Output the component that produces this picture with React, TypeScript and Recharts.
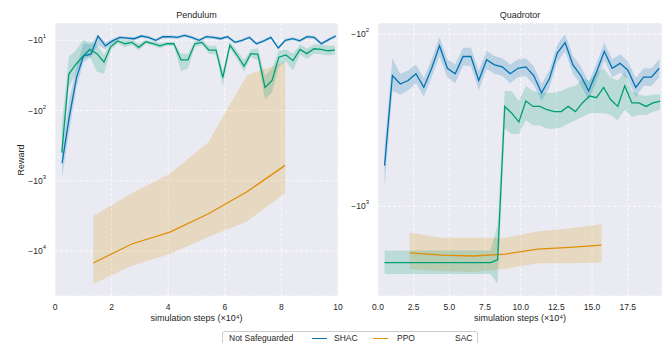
import React from 'react';
import { ComposedChart, Area, Line, XAxis, YAxis, CartesianGrid } from 'recharts';

// ---- Pendulum ----
const pendShacSteps = [0.25, 0.5, 0.76, 1.01, 1.27, 1.52, 1.78, 2.03, 2.29, 2.54, 2.8, 3.05, 3.3, 3.56, 3.81, 4.07, 4.32, 4.58, 4.83, 5.09, 5.34, 5.59, 5.85, 6.1, 6.36, 6.61, 6.87, 7.12, 7.38, 7.63, 7.89, 8.14, 8.4, 8.65, 8.9, 9.16, 9.41, 9.67, 9.92];
const pendShacReward = [-562, -126, -34, -16.6, -15.8, -8.7, -12, -10.2, -9.1, -9.3, -9.5, -8.7, -9.1, -10, -8.9, -8.9, -9.1, -8.5, -9.1, -10, -8.9, -9.1, -9.5, -8.9, -10.7, -10, -9.1, -11.2, -10.2, -9.1, -12.9, -10, -9.5, -10.2, -8.9, -9.1, -11.2, -9.8, -8.7];
const pendShacUpper = [-355, -71, -24, -11, -11.5, -8.3, -10.7, -9.5, -8.6, -8.8, -9.0, -8.3, -8.6, -9.5, -8.5, -8.5, -8.6, -8.1, -8.6, -9.5, -8.5, -8.6, -9.0, -8.5, -10.2, -9.5, -8.6, -10.6, -9.7, -8.6, -12.3, -9.5, -9.0, -9.7, -8.5, -8.6, -10.6, -9.3, -8.3];
const pendShacLower = [-870, -200, -47, -20.4, -17.5, -11.7, -13.5, -11, -9.6, -9.8, -10.0, -9.1, -9.6, -10.5, -9.4, -9.4, -9.6, -8.9, -9.6, -10.5, -9.4, -9.6, -10.0, -9.4, -11.2, -10.5, -9.6, -11.8, -10.7, -9.6, -13.5, -10.5, -10.0, -10.7, -9.4, -9.6, -11.8, -10.3, -9.1];

const pendPpoSteps = [1.35, 2.71, 4.06, 5.42, 6.77, 8.13];
const pendPpoReward = [-14800, -7940, -5370, -2950, -1445, -603];
const pendPpoUpper = [-3160, -1510, -794, -282, -31.6, -20.4];
const pendPpoLower = [-29500, -16200, -11000, -6310, -3800, -1510];

const pendSacSteps = [0.24, 0.49, 0.74, 0.98, 1.23, 1.48, 1.73, 1.97, 2.22, 2.47, 2.72, 2.96, 3.21, 3.46, 3.71, 3.95, 4.2, 4.45, 4.7, 4.94, 5.19, 5.44, 5.69, 5.93, 6.18, 6.43, 6.68, 6.92, 7.17, 7.42, 7.67, 7.91, 8.16, 8.41, 8.66, 8.9, 9.15, 9.4, 9.65, 9.89];
const pendSacReward = [-398, -30.2, -21.9, -17, -13.5, -15.5, -20.4, -12.3, -10.2, -11.2, -10.7, -12.6, -10.5, -11.2, -12, -11.2, -11.2, -19, -19, -11.2, -10.7, -13.8, -13.8, -33.9, -11.7, -16.2, -23.4, -15.5, -15.8, -46.8, -37.2, -17.4, -16.2, -19.5, -13.5, -15.5, -13.2, -13.5, -14.1, -13.8];
const pendSacUpper = [-160, -17, -14, -10, -10.5, -11.7, -16, -11, -9.5, -10, -9.8, -11.2, -9.8, -10.2, -11, -10.5, -10.5, -15.5, -15.5, -10.2, -9.8, -12, -12, -27, -10.5, -14, -19, -13.5, -13, -32, -25, -14, -13.5, -15.5, -11.5, -13, -11.5, -11.5, -12, -12];
const pendSacLower = [-500, -46, -30, -18, -17, -28, -30, -14, -11, -12.6, -11.7, -14, -11.2, -12, -13, -12, -12, -27.5, -25, -12.6, -11.7, -15.5, -16, -45, -13, -18.5, -28, -17.5, -19, -70, -55, -24, -20, -27, -16, -18.5, -15.5, -16, -16.5, -16];

// ---- Quadrotor ----
const quadShacSteps = [0.46, 1.01, 1.56, 2.11, 2.66, 3.21, 3.76, 4.31, 4.86, 5.41, 5.96, 6.51, 7.06, 7.61, 8.16, 8.71, 9.26, 9.81, 10.36, 10.91, 11.46, 12.01, 12.56, 13.11, 13.66, 14.21, 14.76, 15.31, 15.86, 16.41, 16.96, 17.51, 18.06, 18.61, 19.16, 19.71];
const quadShacReward = [-580, -174, -195, -186, -170, -204, -158, -117, -158, -170, -135, -135, -186, -141, -151, -155, -170, -158, -155, -174, -219, -182, -129, -112, -151, -174, -214, -166, -126, -158, -148, -162, -204, -178, -178, -158];
const quadShacUpper = [-450, -138, -170, -163, -150, -180, -140, -104, -140, -150, -120, -120, -163, -125, -134, -138, -150, -140, -138, -154, -195, -162, -115, -100, -134, -154, -190, -148, -112, -140, -131, -144, -180, -158, -158, -140];
const quadShacLower = [-773, -214, -225, -212, -193, -232, -178, -135, -178, -193, -153, -153, -212, -160, -170, -175, -193, -178, -175, -197, -245, -205, -146, -126, -170, -197, -245, -188, -142, -178, -167, -183, -232, -200, -200, -178];

const quadPpoSteps = [2.22, 4.46, 6.7, 8.94, 11.18, 13.42, 15.66];
const quadPpoReward = [-1860, -1920, -1940, -1890, -1770, -1730, -1680];
const quadPpoUpper = [-1420, -1520, -1520, -1520, -1400, -1340, -1270];
const quadPpoLower = [-2320, -2370, -2400, -2300, -2140, -2140, -2120];

const quadSacSteps = [0.46, 0.96, 1.45, 1.95, 2.44, 2.94, 3.43, 3.93, 4.42, 4.92, 5.41, 5.91, 6.4, 6.9, 7.39, 7.89, 8.38, 8.88, 9.37, 9.87, 10.36, 10.86, 11.35, 11.85, 12.34, 12.84, 13.33, 13.83, 14.32, 14.82, 15.31, 15.81, 16.3, 16.8, 17.29, 17.79, 18.28, 18.78, 19.27, 19.77];
const quadSacReward = [-2120, -2120, -2120, -2120, -2120, -2120, -2120, -2120, -2120, -2120, -2120, -2120, -2120, -2120, -2120, -2120, -2040, -263, -288, -324, -245, -263, -263, -275, -282, -282, -263, -282, -251, -229, -234, -204, -240, -263, -200, -251, -251, -263, -251, -245];
const quadSacUpper = [-1800, -1800, -1800, -1800, -1800, -1800, -1800, -1800, -1800, -1800, -1800, -1800, -1800, -1800, -1800, -1800, -1280, -214, -214, -245, -200, -214, -219, -219, -219, -214, -204, -200, -182, -186, -166, -158, -178, -186, -166, -214, -224, -229, -224, -224];
const quadSacLower = [-2470, -2470, -2470, -2470, -2470, -2470, -2470, -2470, -2470, -2470, -2470, -2470, -2470, -2470, -2470, -2470, -2820, -355, -380, -380, -316, -339, -339, -355, -355, -347, -331, -316, -302, -288, -288, -288, -295, -316, -275, -302, -295, -295, -282, -275];

// ticks (y ticks are the exponent n of -10^n)
const pendXTicks = [0, 2, 4, 6, 8, 10];
const quadXTicks = [0, 2.5, 5, 7.5, 10, 12.5, 15, 17.5];
const pendYTicks = [1, 2, 3, 4];
const quadYTicks = [2, 3];

const COLORS = { shac: '#0173B2', ppo: '#DE8F05', sac: '#029E73' };
const FONT = '"Liberation Sans", Arial, Helvetica, sans-serif';
const TEXT = '#262626';

// symlog-ish axis: plot log10(|reward|), axis reversed so -10 sits on top
const logMag = (r: number) => Math.log10(-r);

function toSeries(steps: number[], reward: number[], upper: number[], lower: number[]) {
  return steps.map((x, i) => ({
    x,
    mean: logMag(reward[i]),
    band: [logMag(upper[i]), logMag(lower[i])],
  }));
}

const PowTick = (props: any) => {
  const { x, y, payload } = props;
  return (
    <text x={x} y={y} textAnchor="end" dominantBaseline="central" fill={TEXT} fontSize={8.5} fontFamily={FONT}>
      −10<tspan dy={-4} fontSize={6}>{payload.value}</tspan>
    </text>
  );
};

const StepTick = (props: any) => {
  const { x, y, payload, decimals } = props;
  return (
    <text x={x} y={y} textAnchor="middle" dominantBaseline="central" fill={TEXT} fontSize={8.5} fontFamily={FONT}>
      {Number(payload.value).toFixed(decimals)}
    </text>
  );
};

interface SeriesDef {
  name: string;
  color: string;
  data: { x: number; mean: number; band: number[] }[];
}

interface PanelProps {
  left: number;
  width: number;
  yAxisWidth: number;
  marginRight: number;
  xDomain: [number, number];
  yDomain: [number, number];
  xTicks: number[];
  yTicks: number[];
  decimals: number;
  series: SeriesDef[];
}

function Panel({ left, width, yAxisWidth, marginRight, xDomain, yDomain, xTicks, yTicks, decimals, series }: PanelProps) {
  return (
    <div style={{ position: 'absolute', left, top: 0 }}>
      <ComposedChart width={width} height={343} margin={{ top: 23, right: marginRight, left: 0, bottom: 0 }}>
        <CartesianGrid fill="#EAEAF2" fillOpacity={1} stroke="#ffffff" strokeDasharray="3 2" strokeWidth={0.8} />
        <XAxis
          type="number"
          dataKey="x"
          domain={xDomain}
          ticks={xTicks}
          allowDataOverflow
          height={47}
          axisLine={false}
          tickLine={false}
          tickSize={0}
          tickMargin={10.5}
          interval={0}
          tick={<StepTick decimals={decimals} />}
        />
        <YAxis
          type="number"
          domain={yDomain}
          ticks={yTicks}
          allowDataOverflow
          reversed
          width={yAxisWidth}
          axisLine={false}
          tickLine={false}
          tickSize={0}
          tickMargin={9}
          interval={0}
          tick={<PowTick />}
        />
        {series.map((s) => (
          <Area
            key={s.name + '-band'}
            data={s.data}
            dataKey="band"
            type="linear"
            stroke="none"
            fill={s.color}
            fillOpacity={0.2}
            dot={false}
            activeDot={false}
            isAnimationActive={false}
          />
        ))}
        {series.map((s) => (
          <Line
            key={s.name + '-line'}
            data={s.data}
            dataKey="mean"
            type="linear"
            stroke={s.color}
            strokeWidth={1.3}
            dot={false}
            activeDot={false}
            isAnimationActive={false}
          />
        ))}
      </ComposedChart>
    </div>
  );
}

const label = (text: string, cx: number, cy: number, extra: React.CSSProperties = {}) => (
  <div
    style={{
      position: 'absolute',
      left: cx - 100,
      top: cy - 6,
      width: 200,
      height: 12,
      lineHeight: '12px',
      textAlign: 'center',
      fontSize: 9,
      color: TEXT,
      fontFamily: FONT,
      whiteSpace: 'nowrap',
      ...extra,
    }}
  >
    {text}
  </div>
);

export default function App() {
  const pendSeries: SeriesDef[] = [
    { name: 'SHAC', color: COLORS.shac, data: toSeries(pendShacSteps, pendShacReward, pendShacUpper, pendShacLower) },
    { name: 'PPO', color: COLORS.ppo, data: toSeries(pendPpoSteps, pendPpoReward, pendPpoUpper, pendPpoLower) },
    { name: 'SAC', color: COLORS.sac, data: toSeries(pendSacSteps, pendSacReward, pendSacUpper, pendSacLower) },
  ];
  const quadSeries: SeriesDef[] = [
    { name: 'SHAC', color: COLORS.shac, data: toSeries(quadShacSteps, quadShacReward, quadShacUpper, quadShacLower) },
    { name: 'PPO', color: COLORS.ppo, data: toSeries(quadPpoSteps, quadPpoReward, quadPpoUpper, quadPpoLower) },
    { name: 'SAC', color: COLORS.sac, data: toSeries(quadSacSteps, quadSacReward, quadSacUpper, quadSacLower) },
  ];

  return (
    <div style={{ position: 'absolute', left: 0, top: 0, width: 665, height: 343, overflow: 'hidden', background: '#fff', fontFamily: FONT }}>
      <Panel
        left={0}
        width={352}
        yAxisWidth={55}
        marginRight={14}
        xDomain={[0, 10]}
        yDomain={[0.754, 4.64]}
        xTicks={pendXTicks}
        yTicks={pendYTicks}
        decimals={0}
        series={pendSeries}
      />
      <Panel
        left={340}
        width={325}
        yAxisWidth={38}
        marginRight={3}
        xDomain={[0, 19.9]}
        yDomain={[1.936, 3.52]}
        xTicks={quadXTicks}
        yTicks={quadYTicks}
        decimals={1}
        series={quadSeries}
      />

      {label('Pendulum', 196.5, 15)}
      {label('Quadrotor', 520, 15)}
      {label('simulation steps (×10⁴)', 196.5, 318)}
      {label('simulation steps (×10⁴)', 520, 318)}
      {label('Reward', 21, 159.5, { transform: 'rotate(-90deg)' })}

      {/* legend */}
      <div
        style={{
          position: 'absolute',
          left: 222,
          top: 331,
          width: 256,
          height: 22,
          border: '1px solid #cccccc',
          borderRadius: 3,
          background: '#ffffff',
          boxSizing: 'border-box',
          fontSize: 8.5,
          color: TEXT,
        }}
      >
        <span style={{ position: 'absolute', left: 6, top: 1, lineHeight: '10px' }}>Not Safeguarded</span>
        <span style={{ position: 'absolute', left: 89, top: 5.5, width: 15, height: 1.3, background: COLORS.shac }} />
        <span style={{ position: 'absolute', left: 111, top: 1, lineHeight: '10px' }}>SHAC</span>
        <span style={{ position: 'absolute', left: 150, top: 5.5, width: 15, height: 1.3, background: COLORS.ppo }} />
        <span style={{ position: 'absolute', left: 174, top: 1, lineHeight: '10px' }}>PPO</span>
        <span style={{ position: 'absolute', left: 232, top: 1, lineHeight: '10px' }}>SAC</span>
      </div>
    </div>
  );
}
